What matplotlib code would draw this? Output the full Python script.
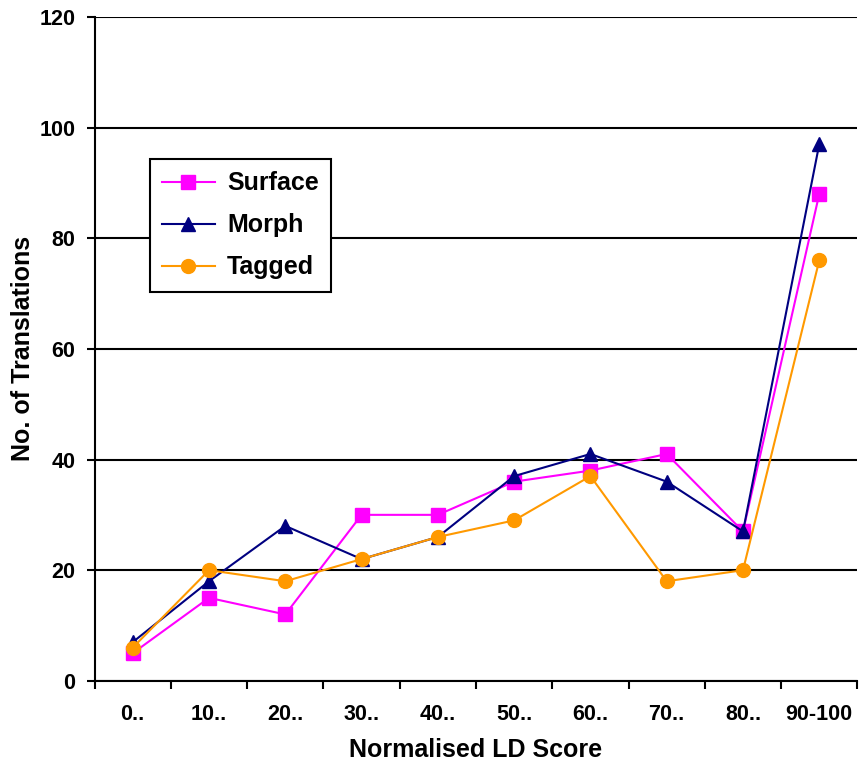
import matplotlib.pyplot as plt

plt.rcParams['font.family'] = ['Liberation Sans', 'DejaVu Sans']
plt.rcParams['font.weight'] = 'bold'

# Données
categories = ["0..", "10..", "20..", "30..", "40..", "50..", "60..", "70..", "80..", "90-100"]
surface = [5, 15, 12, 30, 30, 36, 38, 41, 27, 88]
morph = [7, 18, 28, 22, 26, 37, 41, 36, 27, 97]
tagged = [6, 20, 18, 22, 26, 29, 37, 18, 20, 76]

fig = plt.figure(figsize=(8.6, 7.65), dpi=100)
ax = fig.add_axes([0.110, 0.110, 0.887, 0.868])

x = list(range(len(categories)))
ax.plot(x, surface, color='#ff00ff', marker='s', markersize=10, lw=1.5, label="Surface")
ax.plot(x, morph, color='#000080', marker='^', markersize=10, lw=1.5, label="Morph")
ax.plot(x, tagged, color='#ff9900', marker='o', markersize=10, lw=1.5, label="Tagged")

# Axes
ax.set_xlim(-0.5, len(categories) - 0.5)
ax.set_ylim(0, 120)
ax.set_yticks(range(0, 121, 20))
ax.set_xticks(x)
ax.set_xticklabels(categories)
ax.set_xticks([i - 0.5 for i in range(len(categories) + 1)], minor=True)
ax.tick_params(axis='x', which='major', length=0, pad=17, labelsize=15.5)
ax.tick_params(axis='x', which='minor', length=6, width=1.5, direction='out')
ax.tick_params(axis='y', length=6, width=1.5, direction='out', labelsize=15.5, pad=8)

ax.yaxis.grid(True, color='black', lw=1.5)
ax.set_axisbelow(True)
for s in ['top', 'right']:
    ax.spines[s].set_visible(False)
for s in ['left', 'bottom']:
    ax.spines[s].set_linewidth(1.5)

ax.set_xlabel("Normalised LD Score", fontsize=18, fontweight='bold', labelpad=9)
ax.set_ylabel("No. of Translations", fontsize=18, fontweight='bold', labelpad=3)

leg = ax.legend(loc='upper left', bbox_to_anchor=(0.072, 0.786), fontsize=18,
                frameon=True, fancybox=False, edgecolor='black', borderpad=0.5,
                handlelength=2.1, handletextpad=0.5, labelspacing=0.72,
                borderaxespad=0)
leg.get_frame().set_linewidth(1.5)
leg.get_frame().set_alpha(1)

plt.savefig("out.png", dpi=100)
